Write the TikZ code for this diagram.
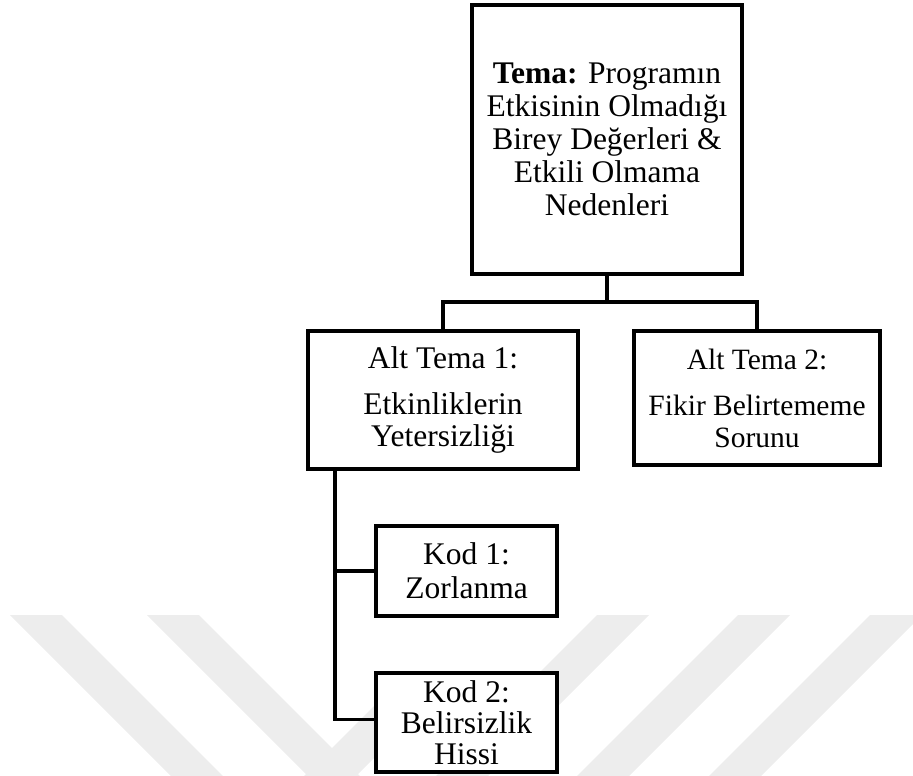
\documentclass[tikz,border=0pt]{standalone}
\usepackage{fontspec}
\setmainfont{Liberation Serif}
\begin{document}
\begin{tikzpicture}[x=1pt,y=-1pt,
  box/.style={draw=black, line width=3.2pt, fill=white, inner sep=0pt,
    outer sep=0pt, align=center, text=black},
  conn/.style={draw=black, line width=3.2pt},
  wmband/.style={fill=black!7, draw=none}]
\useasboundingbox (0,0) rectangle (913,776);

% faint diagonal stripes in the background
\foreach \x in {10,147}
  \fill[wmband] (\x,615) -- (\x+52,615) -- (\x+213,776) -- (\x+161,776) -- cycle;
\fill[wmband] (405,675) -- (457,675) -- (356,776) -- (304,776) -- cycle;
\foreach \x in {597,738,870}
  \fill[wmband] (\x,615) -- (\x+52,615) -- (\x-109,776) -- (\x-161,776) -- cycle;

% theme
\node[box, minimum width=270pt, minimum height=269pt,
  font=\fontsize{31.5}{33}\selectfont] (top) at (607,139.5)
  {\textbf{Tema:} Programın\\Etkisinin Olmadığı\\Birey Değerleri \&\\Etkili Olmama\\Nedenleri};

% sub-themes
\node[box, minimum width=270pt, minimum height=138pt,
  font=\fontsize{31.5}{32}\selectfont] (a1) at (443,400)
  {Alt Tema 1:\\[14pt]Etkinliklerin\\Yetersizliği};
\node[box, minimum width=246pt, minimum height=134pt,
  font=\fontsize{29.5}{32}\selectfont] (a2) at (757,398)
  {Alt Tema 2:\\[14pt]Fikir Belirtememe\\Sorunu};

% codes
\node[box, minimum width=181pt, minimum height=90pt,
  font=\fontsize{31.5}{34}\selectfont] (k1) at (466.5,571)
  {Kod 1:\\Zorlanma};
\node[box, minimum width=181pt, minimum height=99pt,
  font=\fontsize{31.5}{31}\selectfont] (k2) at (466.5,722.5)
  {Kod 2:\\Belirsizlik\\Hissi};

% connectors
\coordinate (j) at (607,302);
\coordinate (s) at (335,469);
\draw[conn] (top.south) -- (j);
\draw[conn] (a1.north) |- (j) -| (a2.north);
\draw[conn] (s) |- (k1.west);
\draw[conn] (s) |- ([yshift=3pt]k2.west);
\end{tikzpicture}
\end{document}
